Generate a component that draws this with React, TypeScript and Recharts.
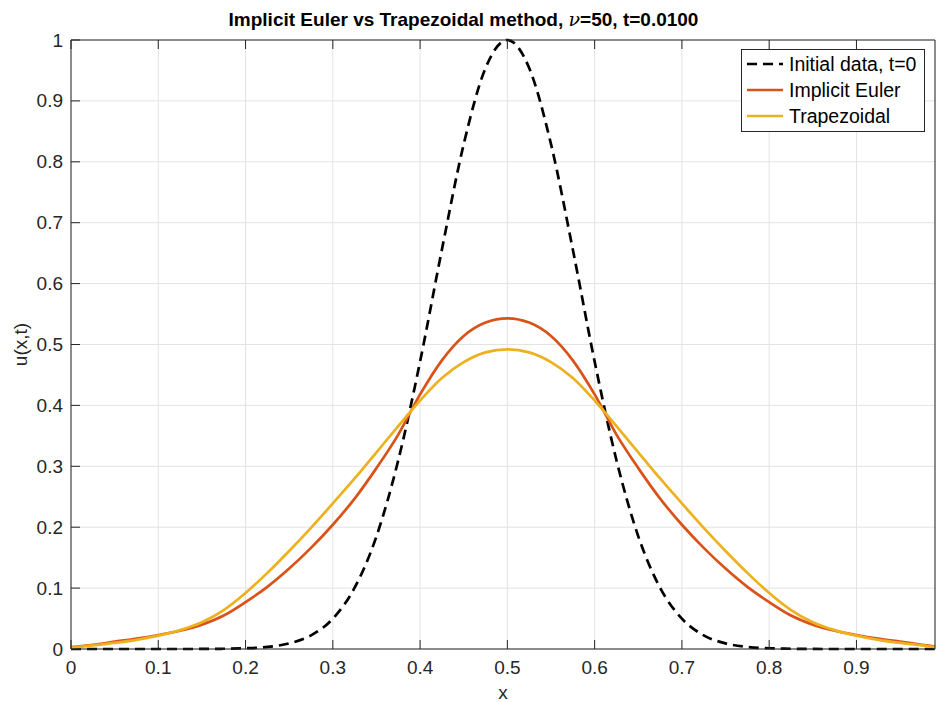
import React from "react";
import { LineChart, Line, XAxis, YAxis, CartesianGrid, Legend } from "recharts";

const FONT = "'Liberation Sans', Arial, Helvetica, sans-serif";
const AXIS = "#262626";

// grid positions (x)
const xValues = [
  0, 0.025, 0.05, 0.075, 0.1, 0.125, 0.15, 0.175, 0.2, 0.225, 0.25, 0.275, 0.3, 0.325, 0.35, 0.375, 0.4, 0.425,
  0.45, 0.475, 0.5, 0.525, 0.55, 0.575, 0.6, 0.625, 0.65, 0.675, 0.7, 0.725, 0.75, 0.775, 0.8, 0.825, 0.85,
  0.875, 0.9, 0.925, 0.95, 0.975, 0.99,
];

// u(x,0)
const initialValues = [
  0, 0, 0, 0, 0, 0, 0.0001, 0.0004, 0.0012, 0.0034, 0.0092, 0.0224, 0.0498, 0.1006, 0.185, 0.31, 0.472, 0.656,
  0.829, 0.954, 1, 0.954, 0.829, 0.656, 0.472, 0.31, 0.185, 0.1006, 0.0498, 0.0224, 0.0092, 0.0034, 0.0012,
  0.0004, 0.0001, 0, 0, 0, 0, 0, 0,
];

// implicit euler at t=0.01
const eulerValues = [
  0.003, 0.007, 0.012, 0.017, 0.023, 0.03, 0.04, 0.055, 0.077, 0.102, 0.132, 0.166, 0.204, 0.247, 0.297, 0.352,
  0.418, 0.474, 0.514, 0.536, 0.543, 0.536, 0.514, 0.474, 0.418, 0.352, 0.297, 0.247, 0.204, 0.166, 0.132, 0.102,
  0.077, 0.055, 0.04, 0.03, 0.023, 0.017, 0.012, 0.007, 0.004,
];

// trapezoidal at t=0.01
const trapValues = [
  0.002, 0.006, 0.01, 0.015, 0.022, 0.031, 0.044, 0.064, 0.092, 0.125, 0.161, 0.199, 0.239, 0.28, 0.323, 0.366,
  0.408, 0.445, 0.471, 0.487, 0.492, 0.487, 0.471, 0.445, 0.408, 0.366, 0.323, 0.28, 0.239, 0.199, 0.161, 0.125,
  0.092, 0.064, 0.044, 0.031, 0.022, 0.015, 0.01, 0.006, 0.003,
];

const xTicks = [0, 0.1, 0.2, 0.3, 0.4, 0.5, 0.6, 0.7, 0.8, 0.9];
const yTicks = [0, 0.1, 0.2, 0.3, 0.4, 0.5, 0.6, 0.7, 0.8, 0.9, 1];

const rows = xValues.map((x, i) => ({
  x,
  initial: initialValues[i],
  euler: eulerValues[i],
  trap: trapValues[i],
}));

const legendOrder = ["initial", "euler", "trap"];
const dashes: Record<string, string | undefined> = { initial: "10 6" };

const BottomTick = ({ x, y, payload }: any) => (
  <g>
    <line x1={x} x2={x} y1={y} y2={y - 9} stroke={AXIS} />
    <text x={x} y={y + 25} textAnchor="middle" fontSize={19} fill={AXIS} fontFamily={FONT}>
      {String(payload.value)}
    </text>
  </g>
);

const TopTick = ({ x, y }: any) => <line x1={x} x2={x} y1={y} y2={y + 9} stroke={AXIS} />;

const LeftTick = ({ x, y, payload }: any) => (
  <g>
    <line x1={x} x2={x + 9} y1={y} y2={y} stroke={AXIS} />
    <text x={x - 8} y={y + 6.5} textAnchor="end" fontSize={19} fill={AXIS} fontFamily={FONT}>
      {String(payload.value)}
    </text>
  </g>
);

const RightTick = ({ x, y }: any) => <line x1={x} x2={x - 9} y1={y} y2={y} stroke={AXIS} />;

const renderLegend = (props: any) => {
  const items = [...(props.payload || [])].sort(
    (a: any, b: any) => legendOrder.indexOf(a.dataKey) - legendOrder.indexOf(b.dataKey)
  );
  return (
    <div
      style={{
        border: `1px solid ${AXIS}`,
        background: "#fff",
        width: 182,
        padding: "1px 0 2px 0",
        fontFamily: FONT,
        fontSize: 19.5,
        color: "#000",
      }}
    >
      {items.map((entry: any) => (
        <div key={entry.value} style={{ display: "flex", alignItems: "center", height: 26 }}>
          <svg width={47} height={10} style={{ flex: "none" }}>
            <line
              x1={5}
              x2={41}
              y1={5}
              y2={5}
              stroke={entry.color}
              strokeWidth={2.7}
              strokeDasharray={dashes[entry.dataKey]}
            />
          </svg>
          <span style={{ whiteSpace: "nowrap" }}>{entry.value}</span>
        </div>
      ))}
    </div>
  );
};

export default function App() {
  return (
    <div style={{ position: "absolute", left: 0, top: 0, width: 936, height: 702, background: "#fff" }}>
      <div
        style={{
          position: "absolute",
          left: 0,
          width: 927,
          top: 8,
          textAlign: "center",
          fontFamily: FONT,
          fontWeight: "bold",
          fontSize: 19,
          color: "#000",
          whiteSpace: "nowrap",
        }}
      >
        Implicit Euler vs Trapezoidal method,{" "}
        <span style={{ fontStyle: "italic", fontWeight: "normal", fontFamily: "'DejaVu Serif', serif" }}>ν</span>
        =50, t=0.0100
      </div>
      <LineChart width={936} height={702} data={rows} margin={{ top: 39, right: 0, bottom: 0, left: 0 }}>
        <CartesianGrid stroke="#e3e3e3" strokeWidth={1} />
        <XAxis
          dataKey="x"
          type="number"
          domain={[0, 0.99]}
          ticks={xTicks}
          height={53}
          tickSize={0}
          tickMargin={0}
          tickLine={false}
          tick={<BottomTick />}
          axisLine={{ stroke: AXIS }}
          label={{
            content: (p: any) => {
              const vb = p.viewBox;
              return (
                <text
                  x={vb.x + vb.width / 2}
                  y={vb.y + 50}
                  textAnchor="middle"
                  fontSize={19}
                  fill={AXIS}
                  fontFamily={FONT}
                >
                  x
                </text>
              );
            },
          }}
        />
        <XAxis
          xAxisId="top"
          orientation="top"
          type="number"
          dataKey="x"
          domain={[0, 0.99]}
          ticks={xTicks}
          height={1}
          tickSize={0}
          tickMargin={0}
          tickLine={false}
          tick={<TopTick />}
          axisLine={{ stroke: AXIS }}
        />
        <YAxis
          type="number"
          domain={[0, 1]}
          ticks={yTicks}
          width={71}
          tickSize={0}
          tickMargin={0}
          tickLine={false}
          tick={<LeftTick />}
          axisLine={{ stroke: AXIS }}
          label={{
            content: (p: any) => {
              const vb = p.viewBox;
              const cx = vb.x + 27;
              const cy = vb.y + vb.height / 2;
              return (
                <text
                  x={cx}
                  y={cy}
                  transform={`rotate(-90 ${cx} ${cy})`}
                  textAnchor="middle"
                  fontSize={19}
                  fill={AXIS}
                  fontFamily={FONT}
                >
                  u(x,t)
                </text>
              );
            },
          }}
        />
        <YAxis
          yAxisId="right"
          orientation="right"
          type="number"
          domain={[0, 1]}
          ticks={yTicks}
          width={1}
          tickSize={0}
          tickMargin={0}
          tickLine={false}
          tick={<RightTick />}
          axisLine={{ stroke: AXIS }}
        />
        <Legend
          layout="horizontal"
          verticalAlign="middle"
          align="center"
          content={renderLegend}
          wrapperStyle={{ left: 741, top: 49, width: "auto", height: "auto" }}
        />
        <Line
          type="monotone"
          dataKey="initial"
          name="Initial data, t=0"
          stroke="#000000"
          strokeWidth={2.7}
          strokeDasharray="10 6"
          dot={false}
          activeDot={false}
          isAnimationActive={false}
        />
        <Line
          type="monotone"
          dataKey="euler"
          name="Implicit Euler"
          stroke="#D95319"
          strokeWidth={2.7}
          dot={false}
          activeDot={false}
          isAnimationActive={false}
        />
        <Line
          type="monotone"
          dataKey="trap"
          name="Trapezoidal"
          stroke="#EDB120"
          strokeWidth={2.7}
          dot={false}
          activeDot={false}
          isAnimationActive={false}
        />
      </LineChart>
    </div>
  );
}
